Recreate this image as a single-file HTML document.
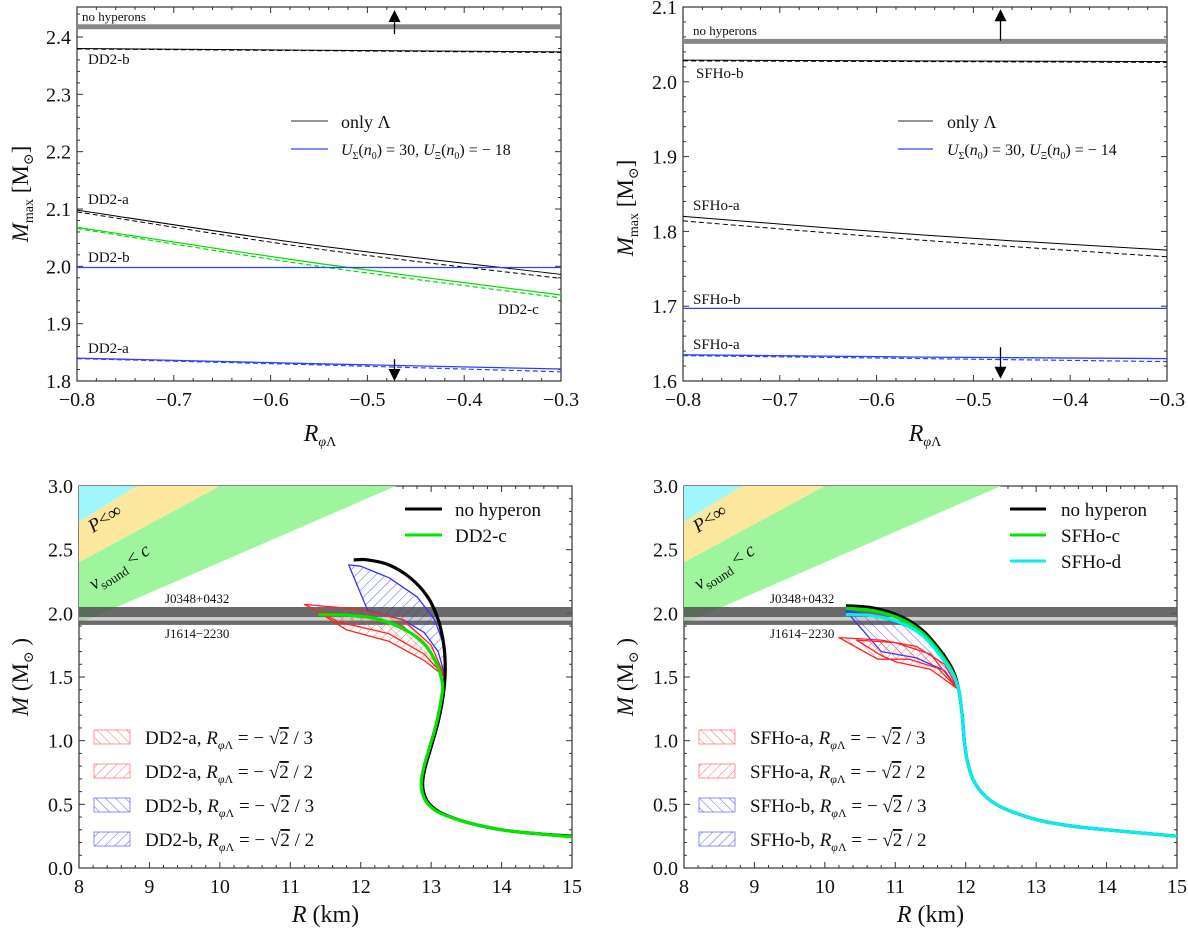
<!DOCTYPE html>
<html><head><meta charset="utf-8"><style>
html,body{margin:0;padding:0;background:#fff;}
svg{display:block;font-family:"Liberation Serif","DejaVu Serif",serif;}
</style></head><body>
<svg id="fig" width="1188" height="929" viewBox="0 0 1188 929" xmlns="http://www.w3.org/2000/svg">
<defs>
<pattern id="hatchRedBack" width="7" height="7" patternUnits="userSpaceOnUse" patternTransform="rotate(-45)"><line x1="0" y1="0" x2="0" y2="7" stroke="#f44" stroke-width="0.8"/></pattern>
<pattern id="hatchRedFwd" width="7" height="7" patternUnits="userSpaceOnUse" patternTransform="rotate(45)"><line x1="0" y1="0" x2="0" y2="7" stroke="#f44" stroke-width="0.8"/></pattern>
<pattern id="hatchBlueBack" width="7" height="7" patternUnits="userSpaceOnUse" patternTransform="rotate(-45)"><line x1="0" y1="0" x2="0" y2="7" stroke="#33f" stroke-width="0.8"/></pattern>
<pattern id="hatchBlueFwd" width="7" height="7" patternUnits="userSpaceOnUse" patternTransform="rotate(45)"><line x1="0" y1="0" x2="0" y2="7" stroke="#33f" stroke-width="0.8"/></pattern>
<clipPath id="clipTL"><rect x="77" y="7" width="484" height="374"/></clipPath>
<clipPath id="clipTR"><rect x="683" y="7" width="484" height="374"/></clipPath>
<clipPath id="clipBL"><rect x="79" y="486" width="493" height="382"/></clipPath>
<clipPath id="clipBR"><rect x="684" y="486" width="493" height="382"/></clipPath>
</defs>
</svg>
<script>
// ---------- data: top panels ----------
const rphiX = [-0.8, -0.55, -0.3];
const dd2NoHyp = 2.418;
const dd2bOnlyL = [2.380, 2.377, 2.374];
const dd2bOnlyLDash = [2.379, 2.376, 2.373];
const dd2aOnlyL = [2.098, 2.036, 1.986];
const dd2aOnlyLDash = [2.095, 2.030, 1.979];
const dd2cOnlyL = [2.068, 2.005, 1.950];
const dd2cOnlyLDash = [2.066, 2.000, 1.945];
const dd2bSigXi = [1.998, 1.998, 1.998];
const dd2aSigXi = [1.840, 1.830, 1.821];
const dd2aSigXiDash = [1.839, 1.828, 1.816];
const sfhoNoHyp = 2.054;
const sfhobOnlyL = [2.029, 2.028, 2.027];
const sfhobOnlyLDash = [2.028, 2.027, 2.026];
const sfhoaOnlyL = [1.820, 1.795, 1.775];
const sfhoaOnlyLDash = [1.814, 1.788, 1.766];
const sfhobSigXi = [1.697, 1.697, 1.697];
const sfhoaSigXi = [1.635, 1.632, 1.630];
const sfhoaSigXiDash = [1.634, 1.630, 1.626];
const topXTicks = [-0.8, -0.7, -0.6, -0.5, -0.4, -0.3];
const tlYTicks = [1.8, 1.9, 2.0, 2.1, 2.2, 2.3, 2.4];
const trYTicks = [1.6, 1.7, 1.8, 1.9, 2.0, 2.1];
// ---------- data: bottom panels ----------
const botXTicks = [8, 9, 10, 11, 12, 13, 14, 15];
const botYTicks = [0.0, 0.5, 1.0, 1.5, 2.0, 2.5, 3.0];
const dd2NoHypR = [11.9,12.1,12.4,12.7,12.95,13.1,13.18,13.2,13.17,13.1,13.0,12.92,12.88,12.9,12.98,13.15,13.5,14.0,14.5,15.0];
const dd2NoHypM = [2.42,2.42,2.38,2.28,2.13,1.95,1.75,1.55,1.35,1.15,0.95,0.8,0.68,0.58,0.5,0.43,0.36,0.3,0.27,0.25];
const dd2cR = [11.4,11.8,12.2,12.6,12.9,13.08,13.16,13.15,13.08,12.98,12.9,12.86,12.88,12.96,13.13,13.5,14.0,14.5,15.0];
const dd2cM = [1.99,1.985,1.96,1.88,1.76,1.6,1.45,1.35,1.15,0.95,0.8,0.68,0.58,0.5,0.43,0.36,0.3,0.27,0.245];
const dd2bHatchR = [11.83,12.0,12.4,12.8,13.05,13.18,13.2,13.1,12.9,12.6,12.1];
const dd2bHatchM = [2.38,2.37,2.28,2.13,1.95,1.75,1.5,1.7,1.85,1.95,2.02];
const dd2aHatch1R = [11.2,12.0,12.6,13.0,13.2,12.9,12.4,11.7,11.4];
const dd2aHatch1M = [2.07,2.03,1.95,1.75,1.5,1.68,1.84,1.93,2.01];
const dd2aHatch2R = [11.4,12.1,12.6,13.0,13.2,12.9,12.4,11.8];
const dd2aHatch2M = [2.01,1.98,1.9,1.7,1.5,1.63,1.78,1.87];
const sfhoNoHypR = [10.3,10.7,11.1,11.4,11.65,11.82,11.9,11.95,11.98,12.02,12.1,12.25,12.5,13.0,13.5,14.0,15.0];
const sfhoNoHypM = [2.06,2.04,1.97,1.86,1.7,1.55,1.4,1.2,1.0,0.85,0.7,0.58,0.48,0.38,0.33,0.3,0.25];
const sfhocR = [10.3,10.7,11.1,11.4,11.65,11.82,11.9];
const sfhocM = [2.04,2.02,1.95,1.84,1.68,1.53,1.4];
const sfhodR = [10.3,10.7,11.1,11.4,11.65,11.82,11.9,11.95,11.98,12.02,12.1,12.25,12.5,13.0,13.5,14.0,15.0];
const sfhodM = [1.99,1.98,1.92,1.82,1.66,1.52,1.4,1.2,1.0,0.85,0.7,0.58,0.48,0.38,0.33,0.3,0.25];
const sfhobHatchR = [10.3,10.8,11.3,11.7,11.9,11.7,11.3,10.8];
const sfhobHatchM = [2.02,1.7,1.65,1.55,1.4,1.68,1.87,1.97];
const sfhoaHatch1R = [10.2,10.8,11.3,11.7,11.9,11.6,11.2,10.75];
const sfhoaHatch1M = [1.81,1.79,1.74,1.6,1.4,1.57,1.64,1.64];
const sfhoaHatch2R = [10.45,11.0,11.5,11.9,11.5,11.0,10.8];
const sfhoaHatch2M = [1.79,1.77,1.68,1.4,1.56,1.62,1.67];
const causalSlopes = [0.34, 0.30, 0.24]; // M = k R boundaries
const j0348 = [1.97, 2.05];
const j1614 = [1.909, 1.943];

const NS = "http://www.w3.org/2000/svg";
const svg = document.getElementById('fig');
function mk(tag, attrs, parent) {
  const e = document.createElementNS(NS, tag);
  for (const k in attrs) e.setAttribute(k, attrs[k]);
  (parent || svg).appendChild(e);
  return e;
}
function panel(px0, px1, py0, py1, xmin, xmax, ymin, ymax) {
  return {
    x: v => px0 + (v - xmin) / (xmax - xmin) * (px1 - px0),
    y: v => py1 - (v - ymin) / (ymax - ymin) * (py1 - py0),
    px0, px1, py0, py1, xmin, xmax, ymin, ymax
  };
}
const TL = panel(77, 561, 7, 381, -0.8, -0.3, 1.8, 2.4523);
const TR = panel(683, 1167, 7, 381, -0.8, -0.3, 1.6, 2.1);
const BL = panel(79, 572, 486, 868, 8, 15, 0, 3);
const BR = panel(684, 1177, 486, 868, 8, 15, 0, 3);

function pathFrom(P, xs, ys, close) {
  let d = '';
  for (let i = 0; i < xs.length; i++) d += (i ? 'L' : 'M') + P.x(xs[i]).toFixed(1) + ' ' + P.y(ys[i]).toFixed(1);
  return d + (close ? 'Z' : '');
}
function smoothPath(P, xs, ys) {
  const pts = xs.map((x, i) => [P.x(x), P.y(ys[i])]);
  let d = 'M' + pts[0][0].toFixed(1) + ' ' + pts[0][1].toFixed(1);
  for (let i = 0; i < pts.length - 1; i++) {
    const p0 = pts[Math.max(0, i - 1)], p1 = pts[i], p2 = pts[i + 1], p3 = pts[Math.min(pts.length - 1, i + 2)];
    const c1 = [p1[0] + (p2[0] - p0[0]) / 6, p1[1] + (p2[1] - p0[1]) / 6];
    const c2 = [p2[0] - (p3[0] - p1[0]) / 6, p2[1] - (p3[1] - p1[1]) / 6];
    d += 'C' + c1.map(v => v.toFixed(1)).join(' ') + ' ' + c2.map(v => v.toFixed(1)).join(' ') + ' ' + p2.map(v => v.toFixed(1)).join(' ');
  }
  return d;
}
function frame(P, xTicks, yTicks, xMinor, yMinor, xFmt, yFmt, name) {
  const g = mk('g', {});
  
  
  const tk = (x1, y1, x2, y2) => mk('line', {x1, y1, x2, y2, stroke: '#333', 'stroke-width': 1}, g);
  for (let v = P.xmin; v <= P.xmax + 1e-9; v += xMinor) {
    const x = P.x(v), major = xTicks.some(t => Math.abs(t - v) < 1e-6);
    const L = major ? 6 : 3;
    tk(x, P.py1, x, P.py1 - L); tk(x, P.py0, x, P.py0 + L);
  }
  for (let v = Math.ceil(P.ymin / yMinor - 1e-6) * yMinor; v <= P.ymax + 1e-9; v += yMinor) {
    const y = P.y(v), major = yTicks.some(t => Math.abs(t - v) < 1e-6);
    const L = major ? 6 : 3;
    tk(P.px0, y, P.px0 + L, y); tk(P.px1, y, P.px1 - L, y);
  }
  mk('rect', {x: P.px0, y: P.py0, width: P.px1 - P.px0, height: P.py1 - P.py0, fill: 'none', stroke: '#333', 'stroke-width': 1.2}, g);
  xTicks.forEach(t => {
    const e = mk('text', {x: P.x(t), y: P.py1 + 25, 'font-size': 20, 'text-anchor': 'middle', fill: '#111'}, g);
    e.textContent = xFmt(t);
    
    
  });
  yTicks.forEach(t => {
    const e = mk('text', {x: P.px0 - 6, y: P.y(t) + 7, 'font-size': 20, 'text-anchor': 'end', fill: '#111'}, g);
    e.textContent = yFmt(t);
    
    
  });
}
const fmtNeg = t => (t < 0 ? '\u2212' : '') + Math.abs(t).toFixed(1);
const fmt1 = t => t.toFixed(1);
const fmt0 = t => String(t);

function line(P, clip, xs, ys, color, w, dash, name, smooth) {
  const e = mk('path', {d: smooth ? smoothPath(P, xs, ys) : pathFrom(P, xs, ys), fill: 'none', stroke: color, 'stroke-width': w, 'clip-path': 'url(#' + clip + ')', 'stroke-linejoin': 'round'});
  if (dash) e.setAttribute('stroke-dasharray', dash);
  
  
  return e;
}
function txt(x, y, s, size, name, extra) {
  const e = mk('text', Object.assign({x, y, 'font-size': size, fill: '#111'}, extra || {}));
  e.innerHTML = s;
  
  
  return e;
}
function arrow(P, xv, yFrom, yTo, name) {
  const g = mk('g', {});
  
  
  const x = P.x(xv), y0 = P.y(yFrom), y1 = P.y(yTo);
  const dir = y1 < y0 ? 1 : -1;
  mk('line', {x1: x, y1: y0, x2: x, y2: y1 + dir * 10, stroke: '#000', 'stroke-width': 1.3}, g);
  mk('polygon', {points: `${x - 6},${y1 + dir * 12} ${x + 6},${y1 + dir * 12} ${x},${y1}`, fill: '#000'}, g);
}
const BLUE = '#3040ff';

// ---------- Top-left ----------
frame(TL, topXTicks, tlYTicks, 0.02, 0.02, fmtNeg, fmt1, 'top-left');
(function () {
  const P = TL, c = 'clipTL';
  line(P, c, rphiX, rphiX.map(() => dd2NoHyp), '#888', 5, null, 'no-hyperons-band');
  line(P, c, rphiX, dd2bOnlyL, '#000', 1, null, 'dd2b-only-lambda');
  line(P, c, rphiX, dd2bOnlyLDash, '#000', 1, '5,3', 'dd2b-only-lambda-dashed');
  line(P, c, rphiX, dd2aOnlyL, '#000', 1, null, 'dd2a-only-lambda', true);
  line(P, c, rphiX, dd2aOnlyLDash, '#000', 1, '5,3', 'dd2a-only-lambda-dashed', true);
  line(P, c, rphiX, dd2cOnlyL, '#00dd00', 1.2, null, 'dd2c-only-lambda', true);
  line(P, c, rphiX, dd2cOnlyLDash, '#00dd00', 1.2, '5,3', 'dd2c-only-lambda-dashed', true);
  line(P, c, rphiX, dd2bSigXi, BLUE, 1.3, null, 'dd2b-sigma-xi');
  line(P, c, rphiX, dd2aSigXi, BLUE, 1.3, null, 'dd2a-sigma-xi');
  line(P, c, rphiX, dd2aSigXiDash, BLUE, 1.2, '5,3', 'dd2a-sigma-xi-dashed');
  arrow(P, -0.472, 2.405, 2.447, 'up-arrow');
  arrow(P, -0.472, 1.838, 1.800, 'down-arrow');
  txt(82, 21, 'no hyperons', 13, 'label-no-hyperons');
  txt(88, 64, 'DD2-b', 15, 'label-dd2b');
  txt(88, 204, 'DD2-a', 15, 'label-dd2a');
  txt(88, 262, 'DD2-b', 15, 'label-dd2b-blue');
  txt(498, 314, 'DD2-c', 15, 'label-dd2c');
  txt(88, 353, 'DD2-a', 15, 'label-dd2a-blue');
  const lg = mk('g', {});  
  mk('line', {x1: 291, y1: 121, x2: 328, y2: 121, stroke: '#555', 'stroke-width': 1.3}, lg);
  mk('line', {x1: 291, y1: 149, x2: 328, y2: 149, stroke: BLUE, 'stroke-width': 1.3}, lg);
  txt(341, 128, 'only Λ', 18, 'legend-only-lambda');
  txt(341, 155, '<tspan font-style="italic">U</tspan><tspan font-size="10" dy="4">Σ</tspan><tspan dy="-4">(</tspan><tspan font-style="italic">n</tspan><tspan font-size="10" dy="4">0</tspan><tspan dy="-4">) = 30, </tspan><tspan font-style="italic">U</tspan><tspan font-size="10" dy="4">Ξ</tspan><tspan dy="-4">(</tspan><tspan font-style="italic">n</tspan><tspan font-size="10" dy="4">0</tspan><tspan dy="-4">) = − 18</tspan>', 16, 'legend-sigma-xi');
  txt(320, 441, '<tspan font-style="italic">R</tspan><tspan font-size="14" dy="5" font-style="italic">φ</tspan><tspan font-size="14">Λ</tspan>', 24, 'x-axis-title', {'text-anchor': 'middle'});
  txt(0, 0, '<tspan font-style="italic">M</tspan><tspan font-size="14" dy="5">max</tspan><tspan dy="-5"> [M</tspan><tspan font-size="14" dy="5">⊙</tspan><tspan dy="-5">]</tspan>', 23, 'y-axis-title', {transform: 'translate(28,194) rotate(-90)', 'text-anchor': 'middle'});
})();

// ---------- Top-right ----------
frame(TR, topXTicks, trYTicks, 0.02, 0.02, fmtNeg, fmt1, 'top-right');
(function () {
  const P = TR, c = 'clipTR';
  line(P, c, rphiX, rphiX.map(() => sfhoNoHyp), '#888', 5, null, 'no-hyperons-band');
  line(P, c, rphiX, sfhobOnlyL, '#000', 1, null, 'sfhob-only-lambda');
  line(P, c, rphiX, sfhobOnlyLDash, '#000', 1, '5,3', 'sfhob-only-lambda-dashed');
  line(P, c, rphiX, sfhoaOnlyL, '#000', 1, null, 'sfhoa-only-lambda', true);
  line(P, c, rphiX, sfhoaOnlyLDash, '#000', 1, '5,3', 'sfhoa-only-lambda-dashed', true);
  line(P, c, rphiX, sfhobSigXi, BLUE, 1.3, null, 'sfhob-sigma-xi');
  line(P, c, rphiX, sfhoaSigXi, BLUE, 1.3, null, 'sfhoa-sigma-xi');
  line(P, c, rphiX, sfhoaSigXiDash, BLUE, 1.2, '5,3', 'sfhoa-sigma-xi-dashed');
  arrow(P, -0.472, 2.055, 2.097, 'up-arrow');
  arrow(P, -0.472, 1.645, 1.603, 'down-arrow');
  txt(693, 35, 'no hyperons', 13, 'label-no-hyperons');
  txt(696, 78, 'SFHo-b', 15, 'label-sfhob');
  txt(693, 210, 'SFHo-a', 15, 'label-sfhoa');
  txt(693, 304, 'SFHo-b', 15, 'label-sfhob-blue');
  txt(693, 349, 'SFHo-a', 15, 'label-sfhoa-blue');
  const lg = mk('g', {});  
  mk('line', {x1: 898, y1: 121, x2: 933, y2: 121, stroke: '#555', 'stroke-width': 1.3}, lg);
  mk('line', {x1: 898, y1: 149, x2: 933, y2: 149, stroke: BLUE, 'stroke-width': 1.3}, lg);
  txt(947, 128, 'only Λ', 18, 'legend-only-lambda');
  txt(947, 155, '<tspan font-style="italic">U</tspan><tspan font-size="10" dy="4">Σ</tspan><tspan dy="-4">(</tspan><tspan font-style="italic">n</tspan><tspan font-size="10" dy="4">0</tspan><tspan dy="-4">) = 30, </tspan><tspan font-style="italic">U</tspan><tspan font-size="10" dy="4">Ξ</tspan><tspan dy="-4">(</tspan><tspan font-style="italic">n</tspan><tspan font-size="10" dy="4">0</tspan><tspan dy="-4">) = − 14</tspan>', 16, 'legend-sigma-xi');
  txt(925, 441, '<tspan font-style="italic">R</tspan><tspan font-size="14" dy="5" font-style="italic">φ</tspan><tspan font-size="14">Λ</tspan>', 24, 'x-axis-title', {'text-anchor': 'middle'});
  txt(0, 0, '<tspan font-style="italic">M</tspan><tspan font-size="14" dy="5">max</tspan><tspan dy="-5"> [M</tspan><tspan font-size="14" dy="5">⊙</tspan><tspan dy="-5">]</tspan>', 23, 'y-axis-title', {transform: 'translate(633,208) rotate(-90)', 'text-anchor': 'middle'});
})();

// ---------- Bottom panels ----------
function bottomPanel(P, c, name) {
  const yAt = (k, R) => k * R;
  const Rtop = k => 3 / k;
  const cols = ['#a0f6fb', '#fbe79d', '#9ef59e'];
  const names = ['region-cyan', 'region-pressure', 'region-causality'];
  let prevK = null;
  causalSlopes.forEach((k, i) => {
    let xs, ys;
    if (prevK === null) { xs = [8, 8, Rtop(k)]; ys = [3, yAt(k, 8), 3]; }
    else { xs = [8, 8, Rtop(k), Rtop(prevK)]; ys = [yAt(prevK, 8), yAt(k, 8), 3, 3]; }
    const e = mk('path', {d: pathFrom(P, xs, ys, true), fill: cols[i], stroke: 'none', 'clip-path': 'url(#' + c + ')'});
    
    
    prevK = k;
  });
  const b1 = mk('rect', {x: P.px0, y: P.y(j0348[1]), width: P.px1 - P.px0, height: P.y(j0348[0]) - P.y(j0348[1]), fill: '#555', 'fill-opacity': 0.88});
  
  
  const gap = mk('rect', {x: P.px0, y: P.y(j0348[0]), width: P.px1 - P.px0, height: P.y(j1614[1]) - P.y(j0348[0]), fill: '#bbb', 'fill-opacity': 0.7});
  
  
  const b2 = mk('rect', {x: P.px0, y: P.y(j1614[1]), width: P.px1 - P.px0, height: P.y(j1614[0]) - P.y(j1614[1]), fill: '#555', 'fill-opacity': 0.88});
  
  
  txt(P.px0 + 86, 603, 'J0348+0432', 13, 'label-j0348');
  txt(P.px0 + 86, 638, 'J1614−2230', 13, 'label-j1614');
  txt(0, 0, '<tspan font-style="italic">P</tspan>&lt;∞', 19, 'label-pressure', {transform: `translate(${P.px0 + 14},${P.y(2.63)}) rotate(-33)`});
  txt(0, 0, '<tspan font-style="italic">v</tspan><tspan font-size="13" dy="5">sound</tspan><tspan dy="-5"> &lt;</tspan><tspan font-style="italic"> c</tspan>', 19, 'label-causality', {transform: `translate(${P.px0 + 15},${P.y(2.18)}) rotate(-33)`});
  txt((P.px0 + P.px1) / 2, 922, '<tspan font-style="italic">R</tspan> (km)', 24, 'x-axis-title', {'text-anchor': 'middle'});
  txt(0, 0, '<tspan font-style="italic">M</tspan> (M<tspan font-size="14" dy="5">⊙</tspan><tspan dy="-5"> )</tspan>', 23, 'y-axis-title', {transform: `translate(${P.px0 - 51},677) rotate(-90)`, 'text-anchor': 'middle'});
}
function hatch(P, c, xs, ys, color, pat, name) {
  const e = mk('path', {d: pathFrom(P, xs, ys, true), fill: 'url(#' + pat + ')', stroke: color, 'stroke-width': 1.3, 'clip-path': 'url(#' + c + ')', 'stroke-linejoin': 'round'});
  
  
}
function hatchLegend(x0, labels, name) {
  const specs = [['#f44', 'hatchRedBack'], ['#f44', 'hatchRedFwd'], ['#33f', 'hatchBlueBack'], ['#33f', 'hatchBlueFwd']];
  const rows = [737, 771, 805, 839];
  labels.forEach((lab, i) => {
    const r = mk('rect', {x: x0, y: rows[i] - 7, width: 36, height: 14, fill: 'url(#' + specs[i][1] + ')', stroke: specs[i][0], 'stroke-width': 0.8, 'stroke-opacity': 0.7});
    
    
    txt(x0 + 51, rows[i] + 7, lab + ', <tspan font-style="italic">R</tspan><tspan font-size="12" dy="5" font-style="italic">φ</tspan><tspan font-size="12">Λ</tspan><tspan dy="-5"> = − √</tspan><tspan text-decoration="overline">2</tspan> / ' + (i % 2 === 0 ? '3' : '2'), 19, 'legend-entry');
  });
}

frame(BL, botXTicks, botYTicks, 0.2, 0.1, fmt0, fmt1, 'bottom-left');
bottomPanel(BL, 'clipBL', 'bl');
hatch(BL, 'clipBL', dd2bHatchR, dd2bHatchM, '#33f', 'hatchBlueFwd', 'hatch-dd2b');
hatch(BL, 'clipBL', dd2aHatch1R, dd2aHatch1M, '#f22', 'hatchRedBack', 'hatch-dd2a-third');
hatch(BL, 'clipBL', dd2aHatch2R, dd2aHatch2M, '#f22', 'hatchRedFwd', 'hatch-dd2a-half');
line(BL, 'clipBL', dd2NoHypR, dd2NoHypM, '#000', 3.2, null, 'dd2-no-hyperon-curve', true);
line(BL, 'clipBL', dd2cR, dd2cM, '#00e600', 3.2, null, 'dd2c-curve', true);
(function () {
  const lg = mk('g', {});  
  mk('line', {x1: 405, y1: 509, x2: 442, y2: 509, stroke: '#000', 'stroke-width': 3}, lg);
  mk('line', {x1: 405, y1: 535, x2: 442, y2: 535, stroke: '#00e600', 'stroke-width': 3}, lg);
  txt(455, 516, 'no hyperon', 19, 'legend-no-hyperon');
  txt(455, 542, 'DD2-c', 19, 'legend-dd2c');
})();
hatchLegend(94, ['DD2-a', 'DD2-a', 'DD2-b', 'DD2-b'], 'bl');

frame(BR, botXTicks, botYTicks, 0.2, 0.1, fmt0, fmt1, 'bottom-right');
bottomPanel(BR, 'clipBR', 'br');
hatch(BR, 'clipBR', sfhobHatchR, sfhobHatchM, '#33f', 'hatchBlueBack', 'hatch-sfhob');
hatch(BR, 'clipBR', sfhoaHatch1R, sfhoaHatch1M, '#f22', 'hatchRedBack', 'hatch-sfhoa-third');
hatch(BR, 'clipBR', sfhoaHatch2R, sfhoaHatch2M, '#f22', 'hatchRedFwd', 'hatch-sfhoa-half');
line(BR, 'clipBR', sfhoNoHypR, sfhoNoHypM, '#000', 3.2, null, 'sfho-no-hyperon-curve', true);
line(BR, 'clipBR', sfhocR, sfhocM, '#00e600', 3.2, null, 'sfhoc-curve', true);
line(BR, 'clipBR', sfhodR, sfhodM, '#00f0f0', 3.2, null, 'sfhod-curve', true);
(function () {
  const lg = mk('g', {});  
  mk('line', {x1: 1010, y1: 509, x2: 1046, y2: 509, stroke: '#000', 'stroke-width': 3}, lg);
  mk('line', {x1: 1010, y1: 535, x2: 1046, y2: 535, stroke: '#00e600', 'stroke-width': 3}, lg);
  mk('line', {x1: 1010, y1: 561, x2: 1046, y2: 561, stroke: '#00f0f0', 'stroke-width': 3}, lg);
  txt(1061, 516, 'no hyperon', 19, 'legend-no-hyperon');
  txt(1061, 542, 'SFHo-c', 19, 'legend-sfhoc');
  txt(1061, 568, 'SFHo-d', 19, 'legend-sfhod');
})();
hatchLegend(699, ['SFHo-a', 'SFHo-a', 'SFHo-b', 'SFHo-b'], 'br');
</script>
</body></html>
